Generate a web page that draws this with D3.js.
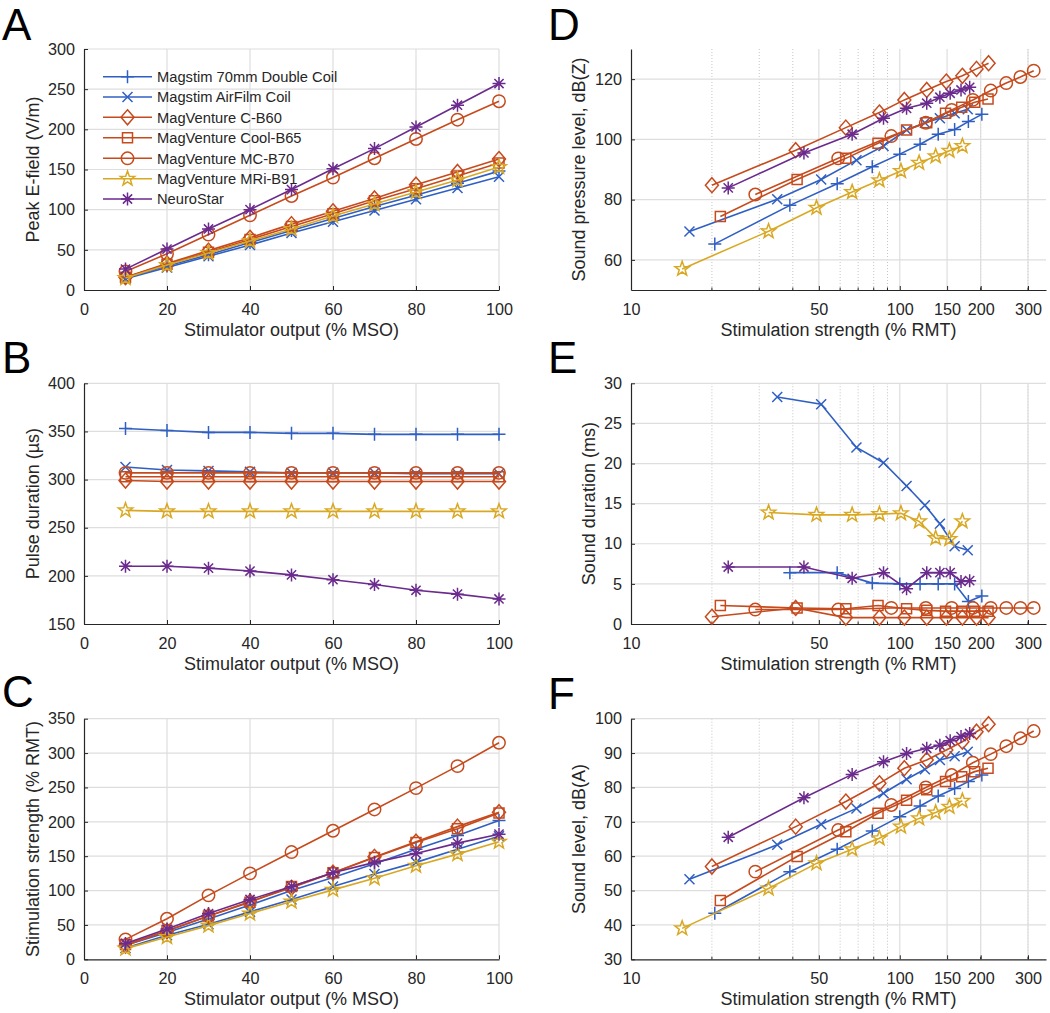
<!DOCTYPE html>
<html><head><meta charset="utf-8">
<script src="https://cdn.jsdelivr.net/npm/d3@7"></script>
<style>
body{margin:0;background:#fff}
text{font-family:"Liberation Sans",Arial,Helvetica,sans-serif;fill:#262626}
</style>
</head><body>
<svg id="fig" width="1050" height="1013"></svg>
<script>
// ---------------- DATA ----------------
const coilNames = ["Magstim 70mm Double Coil","Magstim AirFilm Coil","MagVenture C-B60","MagVenture Cool-B65","MagVenture MC-B70","MagVenture MRi-B91","NeuroStar"];
const msoLevels = [10,20,30,40,50,60,70,80,90,100];

// A: Peak E-field (V/m)
const peakEField = [
  [15,30,44,59,74,89,104,118,133,148],
  [14,28,42,56,71,85,99,113,127,141],
  [16,33,49,65,82,98,114,131,147,163],
  [16,32,47,63,79,95,111,126,142,158],
  [23,45,69,93,117,140,164,188,212,235],
  [15,31,46,61,76,92,107,122,137,153],
  [26,51,76,100,125,151,176,203,230,257]
];
// B: Pulse duration (µs)
const pulseDuration = [
  [353,351,349,349,348,348,347,347,347,347],
  [313,310,309,308,307,307,307,306,306,306],
  [299,298,298,298,298,298,298,298,298,298],
  [303,303,303,303,303,303,303,303,303,303],
  [307,307,307,307,307,307,307,307,307,307],
  [268,267,267,267,267,267,267,267,267,267],
  [210,210,208,205,201,196,191,185,181,176]
];
// C: Stimulation strength (% RMT), also x for D-F
const rmtStrength = [
  [20.5,39,58.5,79,100,119,139,160,180,202],
  [16.5,35,51,69,87,106,124,141,160,179],
  [20,41,63,84,104,126,149,171,193,214],
  [21.5,41.5,63,83,106,126,148,170,190,213],
  [29,59,93,125,156,187,218,249,281,315],
  [15.5,32.5,49,66.5,84,101,118,136,153,171],
  [23,44,66.5,87,106,126,141,154,169,182]
];
// D: Sound pressure level, dB(Z)
const soundPressure = [
  [65.3,78.1,85.3,90.9,95.1,98.4,101.7,103.3,105.9,108.3],
  [69.4,80.1,86.7,93.1,97.8,103.1,105.5,107,108.7,110],
  [84.8,96.4,103.9,108.9,113.1,116.4,119.2,121.1,123.4,125.3],
  [74.4,86.7,93.7,98.7,103.1,105.5,108.7,110.7,112.3,113.4],
  [81.7,93.7,101.1,105.5,109.8,113.1,116.2,118.7,120.7,122.8],
  [57,69.5,77.3,82.5,86.4,89.5,92.2,94.4,96.2,97.8],
  [83.9,95.5,101.7,107,110.3,112,114,115.3,116.4,117.3]
];
// E: Sound duration (ms)
const soundDuration = [
  [null,6.4,6.4,5.1,5.0,5.0,5.0,5.0,2.8,3.5],
  [null,28.3,27.4,22.0,20.1,17.2,14.8,12.5,9.7,9.2],
  [0.9,2.0,0.8,0.8,0.8,0.8,0.8,0.8,0.8,0.8],
  [2.3,2.0,1.9,2.3,1.9,1.7,1.6,1.6,1.6,1.6],
  [1.8,1.8,2.0,2.0,2.0,2.0,2.0,2.0,2.0,2.0],
  [null,13.9,13.6,13.6,13.7,13.8,12.8,10.7,10.6,12.8],
  [7.1,7.1,5.7,6.4,4.4,6.4,6.4,6.4,5.3,5.4]
];
// F: Sound level, dB(A)
const soundLevel = [
  [43.4,55.5,62.0,67.3,71.5,74.6,77.5,79.7,81.7,83.6],
  [53.3,63.3,69.3,73.9,78.3,82.4,85.3,88.0,89.1,90.4],
  [57.0,68.6,75.9,81.2,85.6,88.0,90.9,93.3,96.2,98.4],
  [47.1,59.9,67.1,72.5,76.3,79.3,81.7,83.1,84.6,85.6],
  [55.5,67.6,74.9,80.0,83.6,87.2,89.7,92.0,94.3,96.4],
  [39.0,50.6,57.9,62.0,65.2,68.6,71.0,72.7,74.4,76.1],
  [65.5,77.0,83.8,87.5,89.9,91.4,92.3,93.6,94.8,95.7]
];

// ticks
const msoTicks = [0,20,40,60,80,100];
const rmtTicks = [10,50,100,150,200,300];
const rmtMinor = [20,30,40,60,70,80,90,200,300];
const ticksA = [0,50,100,150,200,250,300];
const ticksB = [150,200,250,300,350,400];
const ticksC = [0,50,100,150,200,250,300,350];
const ticksD = [60,80,100,120];
const ticksE = [0,5,10,15,20,25,30];
const ticksF = [30,40,50,60,70,80,90,100];

// ---------------- STYLE ----------------
const BLUE="#2F5FC3", RED="#C64A1C", YEL="#D9A823", PUR="#6B2A8D";
const colors=[BLUE,BLUE,RED,RED,RED,YEL,PUR];
const markers=["plus","x","diamond","square","circle","star","asterisk"];

function markerPath(t){
  const p=d3.path();
  if(t==="plus"){p.moveTo(-6.5,0);p.lineTo(6.5,0);p.moveTo(0,-6.5);p.lineTo(0,6.5);}
  else if(t==="x"){p.moveTo(-5,-5);p.lineTo(5,5);p.moveTo(-5,5);p.lineTo(5,-5);}
  else if(t==="diamond"){p.moveTo(0,-7.5);p.lineTo(6.5,0);p.lineTo(0,7.5);p.lineTo(-6.5,0);p.closePath();}
  else if(t==="square"){p.rect(-5,-5,10,10);}
  else if(t==="circle"){p.moveTo(6.2,0);p.arc(0,0,6.2,0,2*Math.PI);p.closePath();}
  else if(t==="star"){
    for(let k=0;k<10;k++){const r=k%2?3.1:7.6;const a=-Math.PI/2+k*Math.PI/5;
      const x=r*Math.cos(a),y=r*Math.sin(a); if(k===0)p.moveTo(x,y);else p.lineTo(x,y);} p.closePath();}
  else if(t==="asterisk"){p.moveTo(-6.5,0);p.lineTo(6.5,0);p.moveTo(0,-6.5);p.lineTo(0,6.5);
    p.moveTo(-4.6,-4.6);p.lineTo(4.6,4.6);p.moveTo(-4.6,4.6);p.lineTo(4.6,-4.6);}
  return p.toString();
}

const svg=d3.select("#fig");
const LX=[84,499], RX=[631,1046];
const ROWS=[[49,290],[383.3,624],[718.7,959.3]];

const panels=[
 {L:"A",lx:2,ly:40,xr:LX,yr:ROWS[0],xlog:false,xd:[0,100],yd:[0,300],xt:msoTicks,yt:ticksA,
  xlab:"Stimulator output (% MSO)",ylab:"Peak E-field (V/m)",ylx:39,xs:()=>msoLevels,ys:peakEField},
 {L:"B",lx:2,ly:373,xr:LX,yr:ROWS[1],xlog:false,xd:[0,100],yd:[150,400],xt:msoTicks,yt:ticksB,
  xlab:"Stimulator output (% MSO)",ylab:"Pulse duration (µs)",ylx:39,xs:()=>msoLevels,ys:pulseDuration},
 {L:"C",lx:2,ly:707,xr:LX,yr:ROWS[2],xlog:false,xd:[0,100],yd:[0,350],xt:msoTicks,yt:ticksC,
  xlab:"Stimulator output (% MSO)",ylab:"Stimulation strength (% RMT)",ylx:39,xs:()=>msoLevels,ys:rmtStrength},
 {L:"D",lx:548,ly:40,xr:RX,yr:ROWS[0],xlog:true,xd:[10,350],yd:[50,130],xt:rmtTicks,yt:ticksD,
  xlab:"Stimulation strength (% RMT)",ylab:"Sound pressure level, dB(Z)",ylx:585,xs:i=>rmtStrength[i],ys:soundPressure},
 {L:"E",lx:548,ly:373,xr:RX,yr:ROWS[1],xlog:true,xd:[10,350],yd:[0,30],xt:rmtTicks,yt:ticksE,
  xlab:"Stimulation strength (% RMT)",ylab:"Sound duration (ms)",ylx:595,xs:i=>rmtStrength[i],ys:soundDuration},
 {L:"F",lx:548,ly:709,xr:RX,yr:ROWS[2],xlog:true,xd:[10,350],yd:[30,100],xt:rmtTicks,yt:ticksF,
  xlab:"Stimulation strength (% RMT)",ylab:"Sound level, dB(A)",ylx:585,xs:i=>rmtStrength[i],ys:soundLevel}
];

panels.forEach(P=>{
  const x=(P.xlog?d3.scaleLog():d3.scaleLinear()).domain(P.xd).range(P.xr);
  const y=d3.scaleLinear().domain(P.yd).range([P.yr[1],P.yr[0]]);
  const g=svg.append("g");
  const [x0,x1]=P.xr,[yt,yb]=[P.yr[0],P.yr[1]];
  if(P.xlog){
    g.selectAll(null).data(rmtMinor).join("line")
      .attr("x1",d=>x(d)).attr("x2",d=>x(d)).attr("y1",yt).attr("y2",yb)
      .attr("stroke","#c4c4c4").attr("stroke-width",1).attr("stroke-dasharray","1,2");
  }
  g.selectAll(null).data(P.xt.filter(d=>d!==P.xd[0])).join("line")
    .attr("x1",d=>x(d)).attr("x2",d=>x(d)).attr("y1",yt).attr("y2",yb)
    .attr("stroke","#dedede").attr("stroke-width",1.2);
  g.selectAll(null).data(P.yt.filter(d=>d!==P.yd[0])).join("line")
    .attr("x1",x0).attr("x2",x1).attr("y1",d=>y(d)).attr("y2",d=>y(d))
    .attr("stroke","#dedede").attr("stroke-width",1.2);

  const xa=d3.axisBottom(x).tickValues(P.xt).tickFormat(d3.format("d")).tickSizeInner(-4).tickSizeOuter(0).tickPadding(10);
  const ya=d3.axisLeft(y).tickValues(P.yt).tickFormat(d3.format("d")).tickSizeInner(-4).tickSizeOuter(0).tickPadding(9);
  const gx=g.append("g").attr("transform",`translate(0,${yb})`).call(xa);
  const gy=g.append("g").attr("transform",`translate(${x0},0)`).call(ya);
  [gx,gy].forEach(a=>{a.select(".domain").attr("stroke","#262626").attr("stroke-width",1.2);
    a.selectAll(".tick line").attr("stroke","#262626").attr("stroke-width",1);
    a.selectAll("text").attr("font-size",16.2).attr("fill","#262626");});
  gx.selectAll("text").attr("dy","0.9em");
  if(P.xlog){
    g.selectAll(null).data(rmtMinor).join("line")
      .attr("x1",d=>x(d)).attr("x2",d=>x(d)).attr("y1",yb).attr("y2",yb-2.5)
      .attr("stroke","#262626").attr("stroke-width",1);
  }
  g.append("text").attr("x",(x0+x1)/2).attr("y",yb+46).attr("text-anchor","middle")
    .attr("font-size",18).text(P.xlab);
  g.append("text").attr("transform",`translate(${P.ylx},${(yt+yb)/2}) rotate(-90)`)
    .attr("text-anchor","middle").attr("font-size",18).text(P.ylab);
  svg.append("text").attr("x",P.lx).attr("y",P.ly).attr("font-size",44).style("fill","#000").text(P.L);

  const line=d3.line().defined(d=>d[1]!=null).x(d=>x(d[0])).y(d=>y(d[1]));
  P.ys.forEach((vals,i)=>{
    const xs=P.xs(i);
    const pts=vals.map((v,k)=>[xs[k],v]);
    g.append("path").datum(pts).attr("d",line).attr("fill","none")
      .attr("stroke",colors[i]).attr("stroke-width",1.6);
    g.selectAll(null).data(pts.filter(d=>d[1]!=null)).join("path")
      .attr("transform",d=>`translate(${x(d[0])},${y(d[1])})`)
      .attr("d",markerPath(markers[i])).attr("fill","none")
      .attr("stroke",colors[i]).attr("stroke-width",1.5);
  });
});

const leg=svg.append("g");
const legY=[76.7,97,117.3,137.7,158.3,178.7,199];
coilNames.forEach((nm,i)=>{
  const yy=legY[i];
  leg.append("line").attr("x1",103).attr("x2",152).attr("y1",yy).attr("y2",yy)
    .attr("stroke",colors[i]).attr("stroke-width",1.6);
  leg.append("path").attr("transform",`translate(127.5,${yy})`).attr("d",markerPath(markers[i]))
    .attr("fill","none").attr("stroke",colors[i]).attr("stroke-width",1.5);
  leg.append("text").attr("x",157).attr("y",yy).attr("dy","0.36em").attr("font-size",14.7).text(nm);
});
</script>
</body></html>
